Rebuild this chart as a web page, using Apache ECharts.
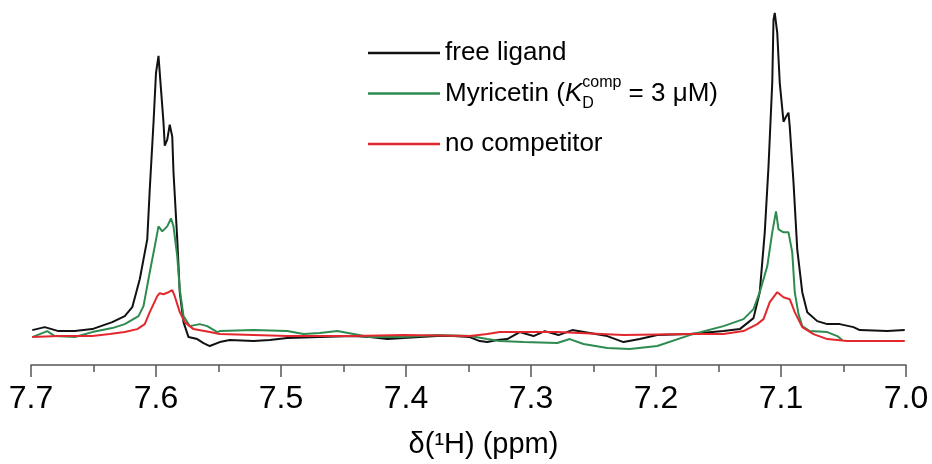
<!DOCTYPE html>
<html>
<head>
<meta charset="utf-8">
<script src="https://cdn.jsdelivr.net/npm/echarts@6/dist/echarts.min.js"></script>
<style>
html,body{margin:0;padding:0;background:#fff;}
#chart{width:932px;height:464px;}
</style>
</head>
<body>
<div id="chart"></div>
<script>
// ---- data (chemical shift in ppm, intensity in arbitrary units) ----
const seriesNames = ['free ligand', 'Myricetin', 'no competitor'];
const xTicks = ['7.0', '7.1', '7.2', '7.3', '7.4', '7.5', '7.6', '7.7'];

const freePpm = [7.699,7.689,7.678,7.665,7.651,7.635,7.625,7.619,7.613,7.607,7.605,7.602,7.600,7.598,7.597,7.594,7.593,7.591,7.589,7.587,7.586,7.583,7.581,7.578,7.574,7.567,7.562,7.557,7.549,7.541,7.522,7.509,7.495,7.469,7.442,7.429,7.415,7.402,7.389,7.375,7.362,7.349,7.341,7.335,7.327,7.319,7.309,7.298,7.289,7.278,7.267,7.253,7.239,7.226,7.213,7.199,7.173,7.146,7.133,7.122,7.117,7.113,7.110,7.107,7.106,7.105,7.103,7.101,7.098,7.096,7.094,7.093,7.090,7.087,7.083,7.079,7.071,7.063,7.053,7.042,7.037,7.015,7.001];
const freeInt = [19,22,18,18,20,27,33,42,70,110,160,227,277,294,277,227,204,210,225,213,177,110,57,27,12,10,6,3,7,9,8,9,11,12,13,12,10,11,12,13,13,12,8,7,9,10,17,13,18,14,19,16,13,7,10,14,15,18,20,31,57,117,183,267,330,337,317,267,228,233,237,223,167,100,57,37,28,25,25,22,19,18,19];

const myrPpm = [7.699,7.687,7.681,7.665,7.651,7.635,7.625,7.614,7.610,7.605,7.601,7.598,7.595,7.591,7.588,7.586,7.583,7.581,7.578,7.573,7.565,7.559,7.551,7.549,7.522,7.495,7.482,7.469,7.455,7.442,7.429,7.402,7.375,7.349,7.335,7.325,7.306,7.279,7.269,7.258,7.239,7.221,7.199,7.173,7.146,7.130,7.122,7.117,7.111,7.107,7.104,7.102,7.098,7.094,7.091,7.089,7.086,7.083,7.077,7.063,7.055,7.051];
const myrInt = [12,18,13,12,17,21,25,33,43,77,103,123,118,123,131,123,93,60,33,23,25,23,17,18,19,18,15,16,18,15,12,12,14,13,10,8,7,6,10,5,1,0,3,14,23,30,40,57,83,117,138,120,117,117,97,57,35,23,18,17,13,9];

const noPpm = [7.699,7.678,7.651,7.637,7.625,7.615,7.609,7.605,7.599,7.597,7.594,7.590,7.587,7.585,7.581,7.577,7.570,7.557,7.549,7.522,7.495,7.442,7.402,7.349,7.335,7.325,7.279,7.226,7.173,7.146,7.130,7.119,7.114,7.109,7.103,7.098,7.093,7.089,7.083,7.074,7.063,7.047,7.023,7.001];
const noInt = [12,13,13,15,17,20,25,37,53,56,55,57,59,53,37,27,20,17,15,14,13,13,14,13,15,17,17,14,15,15,18,25,30,47,57,52,50,37,22,15,10,8,8,8];

function pairs(xs, ys){ return xs.map((x,i)=>[x, ys[i]]); }

const colors = ['#111111', '#2e8b50', '#e2282d'];

const chart = echarts.init(document.getElementById('chart'), null, {renderer:'canvas'});

const baseLegend = {
  orient: 'vertical',
  left: 363,
  itemWidth: 72,
  itemHeight: 2.5,
  icon: 'rect',
  selectedMode: false,
  textStyle: {fontFamily: 'Liberation Sans, Arial, sans-serif', fontSize: 26, color: '#000', lineHeight: 30}
};

const option = {
  animation: false,
  backgroundColor: '#fff',
  grid: {left: 31, right: 26, top: 10, bottom: 98},
  legend: [
    Object.assign({}, baseLegend, {top: 33, data: [seriesNames[0]]}),
    Object.assign({}, baseLegend, {
      top: 70,
      data: [seriesNames[1]],
      formatter: function(){ return '{n|Myricetin (}{k|K}{d|D}{c|comp}{n| = 3 μM)}'; },
      textStyle: {
        fontFamily: 'Liberation Sans, Arial, sans-serif', fontSize: 26, color: '#000', lineHeight: 37,
        rich: {
          n: {fontFamily: 'Liberation Sans, Arial, sans-serif', fontSize: 26, color: '#000', lineHeight: 37, verticalAlign: 'middle'},
          k: {fontFamily: 'Liberation Sans, Arial, sans-serif', fontSize: 26, fontStyle: 'italic', color: '#000', lineHeight: 37, verticalAlign: 'middle'},
          d: {fontFamily: 'Liberation Sans, Arial, sans-serif', fontSize: 16, color: '#000', lineHeight: 8, verticalAlign: 'bottom', width: 0},
          c: {fontFamily: 'Liberation Sans, Arial, sans-serif', fontSize: 16, color: '#000', lineHeight: 16, verticalAlign: 'top'}
        }
      }
    }),
    Object.assign({}, baseLegend, {top: 124, data: [seriesNames[2]]})
  ],
  xAxis: {
    type: 'value',
    inverse: true,
    min: 7.0,
    max: 7.7,
    interval: 0.1,
    name: 'δ(¹H) (ppm)',
    nameLocation: 'middle',
    nameGap: 65,
    nameTextStyle: {fontFamily: 'Liberation Sans, Arial, sans-serif', fontSize: 29, color: '#000', padding: [0,0,0,30]},
    axisLine: {onZero: false, lineStyle: {color: '#555', width: 1.5}},
    axisTick: {show: true, length: 12, lineStyle: {color: '#555', width: 1.5}},
    minorTick: {show: true, splitNumber: 2, length: 7, lineStyle: {color: '#555', width: 1.5}},
    splitLine: {show: false},
    minorSplitLine: {show: false},
    axisLabel: {
      fontFamily: 'Liberation Sans, Arial, sans-serif', fontSize: 32, color: '#000', margin: 18,
      formatter: function(v){ const s = v.toFixed(1); return xTicks.indexOf(s) >= 0 ? s : ''; }
    }
  },
  yAxis: {
    type: 'value', show: false, min: -16, max: 340,
    splitLine: {show: false}
  },
  series: [
    {name: seriesNames[0], type: 'line', data: pairs(freePpm, freeInt), symbol: 'none', color: colors[0], lineStyle: {width: 2, color: colors[0]}},
    {name: seriesNames[1], type: 'line', data: pairs(myrPpm, myrInt), symbol: 'none', color: colors[1], lineStyle: {width: 2, color: colors[1]}},
    {name: seriesNames[2], type: 'line', data: pairs(noPpm, noInt), symbol: 'none', color: colors[2], lineStyle: {width: 2, color: colors[2]}}
  ]
};
chart.setOption(option);
</script>
</body>
</html>
